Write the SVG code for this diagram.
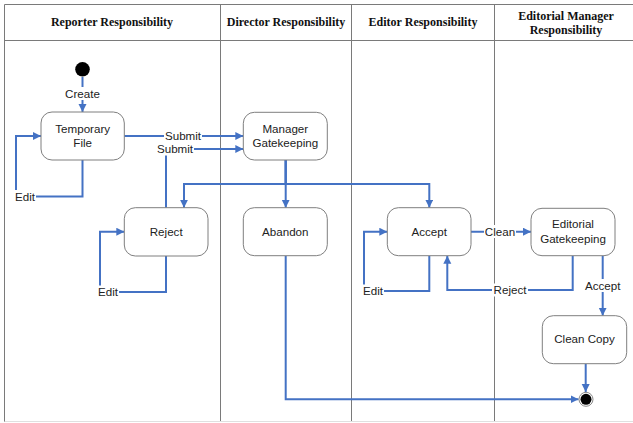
<svg xmlns="http://www.w3.org/2000/svg" width="633" height="423" viewBox="0 0 633 423">
<style>
.lane{stroke:#7a7a7a;stroke-width:1;fill:none}
.hdr{font-family:"Liberation Serif","Times New Roman",serif;font-weight:bold;font-size:12px;fill:#111;text-anchor:middle}
.node rect{fill:#fff;stroke:#7f7f7f;stroke-width:1}
.node text{font-family:"Liberation Sans",Arial,sans-serif;font-size:11.6px;fill:#222;text-anchor:middle}
.conn path{fill:none;stroke:#4472C4;stroke-width:2}
.lbl rect{fill:#fff}
.lbl text{font-family:"Liberation Sans",Arial,sans-serif;font-size:11.6px;fill:#222;text-anchor:middle}
</style>
<defs>
<marker id="arr" markerUnits="userSpaceOnUse" markerWidth="9" markerHeight="9" refX="8" refY="4" orient="auto">
<path d="M0,0 L8,4 L0,8 z" fill="#4472C4"/>
</marker>
</defs>
<rect x="0" y="0" width="633" height="423" fill="#fff"/>
<g id="lanes">
<path class="lane" d="M4.5,4.5 H633 M4.5,4.5 V422 M4.5,40.5 H633 M220.5,4.5 V422 M351.5,4.5 V422 M494.5,4.5 V422"/>
<path d="M4.5,421.5 H633" stroke="#e0e0e0" stroke-width="1"/>
<text class="hdr" x="112" y="26">Reporter Responsibility</text>
<text class="hdr" x="286" y="26">Director Responsibility</text>
<text class="hdr" x="423" y="26">Editor Responsibility</text>
<text class="hdr" x="566" y="20">Editorial Manager</text>
<text class="hdr" x="566" y="34">Responsibility</text>
</g>
<g class="conn" id="connectors">
<path d="M82.5,77 V112" marker-end="url(#arr)"/>
<path d="M82.5,160 V196.5 H16 V136 H41" marker-end="url(#arr)"/>
<path d="M124.3,136 H243.3" marker-end="url(#arr)"/>
<path d="M166,207.7 V149 H243.3" marker-end="url(#arr)"/>
<path d="M166,256 V292 H100 V231.7 H124.3" marker-end="url(#arr)"/>
<path d="M285.7,160 V207.7" marker-end="url(#arr)"/>
<path d="M285.7,160 V184 H184 V207.7" marker-end="url(#arr)"/>
<path d="M285.7,160 V184 H429.3 V207.7" marker-end="url(#arr)"/>
<path d="M429.3,255.7 V291 H364 V231.7 H387.3" marker-end="url(#arr)"/>
<path d="M471,231.7 H531" marker-end="url(#arr)"/>
<path d="M572.7,255.7 V290 H447.3 V255.7" marker-end="url(#arr)"/>
<path d="M602.7,255.7 V315.7" marker-end="url(#arr)"/>
<path d="M585.7,363.7 V392" marker-end="url(#arr)"/>
<path d="M285.7,255.7 V399.3 H578.5" marker-end="url(#arr)"/>
</g>
<g class="lbl" id="labels">
<rect x="63" y="87" width="39" height="13"/><text x="82.5" y="97.5">Create</text>
<rect x="14" y="190" width="22" height="13"/><text x="25" y="200.5">Edit</text>
<rect x="164" y="129.5" width="38" height="13"/><text x="183" y="140">Submit</text>
<rect x="156" y="142.5" width="38" height="13"/><text x="175" y="153">Submit</text>
<rect x="97" y="285.5" width="22" height="13"/><text x="108" y="296">Edit</text>
<rect x="362" y="284.5" width="22" height="13"/><text x="373" y="295">Edit</text>
<rect x="484" y="225" width="32" height="13"/><text x="500" y="235.7">Clean</text>
<rect x="492" y="283.5" width="36" height="13"/><text x="510" y="294">Reject</text>
<rect x="582" y="279" width="41" height="13"/><text x="602.7" y="289.7">Accept</text>
</g>
<g id="start"><circle cx="82.5" cy="69.3" r="7.3" fill="#000"/></g>
<g class="node" id="temporary-file"><rect x="41" y="112" width="83.3" height="48" rx="11"/><text x="82.7" y="133">Temporary</text><text x="82.7" y="147">File</text></g>
<g class="node" id="manager-gatekeeping"><rect x="243.3" y="112.3" width="84" height="47.7" rx="11"/><text x="285.3" y="132.7">Manager</text><text x="285.3" y="147.3">Gatekeeping</text></g>
<g class="node" id="reject"><rect x="124.3" y="207.7" width="83.7" height="48.3" rx="11"/><text x="166.2" y="235.8">Reject</text></g>
<g class="node" id="abandon"><rect x="243.3" y="207.7" width="84" height="48" rx="11"/><text x="285.3" y="235.8">Abandon</text></g>
<g class="node" id="accept"><rect x="387.3" y="207.7" width="83.7" height="48" rx="11"/><text x="429.2" y="235.8">Accept</text></g>
<g class="node" id="editorial-gatekeeping"><rect x="531" y="208.3" width="84" height="47.4" rx="11"/><text x="573" y="228.3">Editorial</text><text x="573" y="242.7">Gatekeeping</text></g>
<g class="node" id="clean-copy"><rect x="542.3" y="315.7" width="84.4" height="48" rx="11"/><text x="584.5" y="343.2">Clean Copy</text></g>
<g id="end"><circle cx="586" cy="399.3" r="7" fill="#fff" stroke="#888" stroke-width="1"/><circle cx="586" cy="399.3" r="5.5" fill="#000"/></g>
</svg>
